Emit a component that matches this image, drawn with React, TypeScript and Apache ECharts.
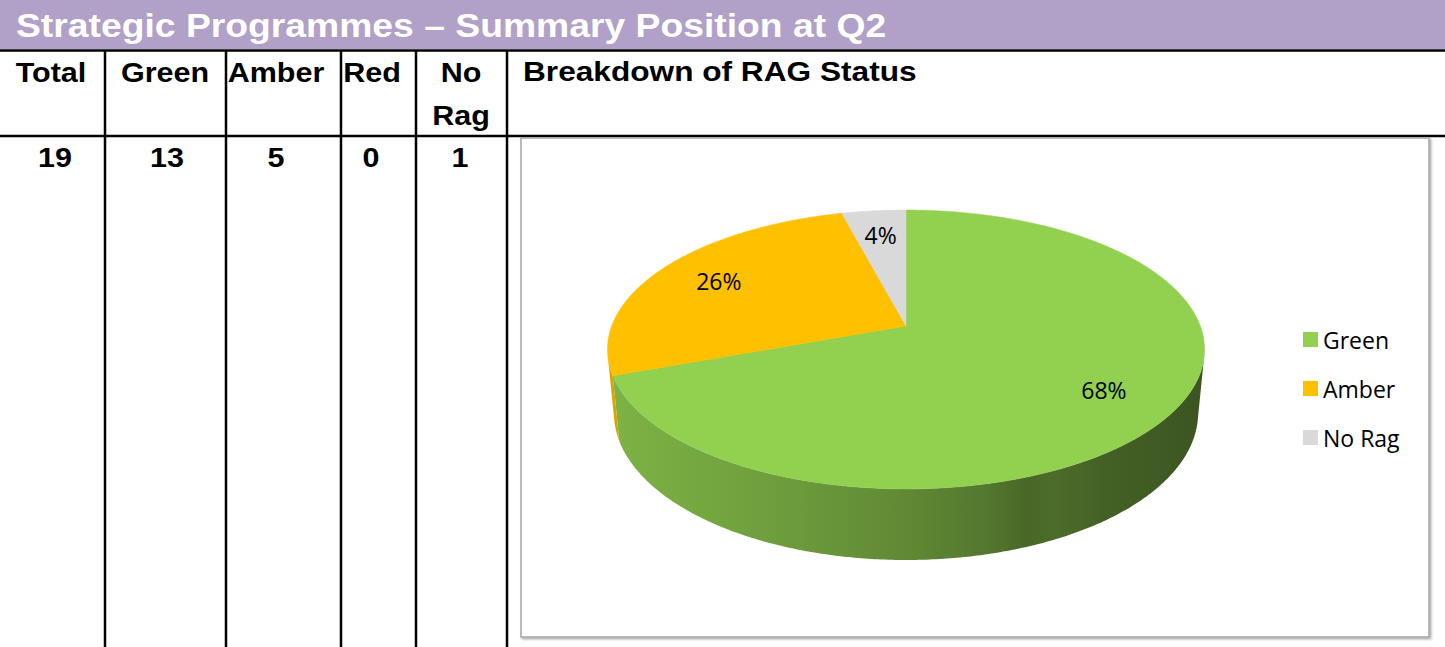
import React, { useEffect, useRef } from "react";
import * as echarts from "echarts";

// ---------------- data ----------------
const TITLE = "Strategic Programmes – Summary Position at Q2";
const tableHeaders = ["Total", "Green", "Amber", "Red", "No\nRag"];
const tableValues = [19, 13, 5, 0, 1];
const chartTitle = "Breakdown of RAG Status";
const sliceNames = ["Green", "Amber", "No Rag"];
const sliceShares = [68, 26, 4]; // percentage labels as shown on the pie
const sliceColors = ["#92D050", "#FFC000", "#D9D9D9"];

// ---------------- layout ----------------
const W = 1445;
const H = 647;
const ARIAL = '"Liberation Sans", Arial, sans-serif';
const CALIBRI = '"Open Sans", sans-serif';
const colLines = [105, 226, 341, 416, 507];
const headerX = [51, 165, 276, 372, 461];
const valueX = [55, 167, 276, 371, 460];
const STRETCH = 1.13;

// perspective pie model
const PIE_CX = 906;
const PIE_CY = 326;
const SIN_PHI = 0.4604;
const COS_PHI = Math.sqrt(1 - SIN_PHI * SIN_PHI);
const DIST = 5.271;
const FOCAL = 1551;
const DEPTH = 0.2455;
const LABEL_R = 0.76;

function proj(t: number, r: number, z: number): number[] {
  const u = r * Math.sin(t);
  const v = r * Math.cos(t);
  const d = DIST + v * COS_PHI - z * SIN_PHI;
  const yUp = v * SIN_PHI + z * COS_PHI;
  return [PIE_CX + (FOCAL * u) / d, PIE_CY - (FOCAL * yUp) / d];
}

function shade(hex: string, f: number): string {
  const n = parseInt(hex.slice(1), 16);
  const r = Math.round(((n >> 16) & 255) * f);
  const g = Math.round(((n >> 8) & 255) * f);
  const b = Math.round((n & 255) * f);
  return `rgb(${r},${g},${b})`;
}

const VIS_A = Math.acos(-1 / (DIST * COS_PHI));
const VIS_B = 2 * Math.PI - VIS_A;

function wallFill(color: string) {
  const left = proj(VIS_B, 1, 0)[0];
  const right = proj(VIS_A, 1, 0)[0];
  const span = right - left;
  const stops: [number, number][] = [
    [left, 0.86],
    [left + span * 0.25, 0.77],
    [left + span * 0.5, 0.66],
    [left + span * 0.64, 0.57],
    [left + span * 0.7, 0.5],
    [left + span * 0.75, 0.52],
    [left + span * 0.84, 0.46],
    [right, 0.41],
  ];
  return new echarts.graphic.LinearGradient(
    left,
    0,
    right,
    0,
    stops.map(([x, f]) => ({ offset: (x - left) / span, color: shade(color, f) })),
    true
  );
}

function buildOption() {
  const total = sliceShares.reduce((a, b) => a + b, 0);
  const graphic: any[] = [];
  graphic.push({ type: "rect", shape: { x: 0, y: 0, width: W, height: 49 }, style: { fill: "#B1A0C7" } });
  graphic.push({
    type: "text",
    x: 16,
    y: 25,
    scaleX: STRETCH,
    style: { text: TITLE, fill: "#fff", font: `bold 33px ${ARIAL}`, align: "left", verticalAlign: "middle" },
  });
  graphic.push({ type: "line", shape: { x1: 0, y1: 50.5, x2: W, y2: 50.5 }, style: { stroke: "#000", lineWidth: 2.5 } });
  graphic.push({ type: "line", shape: { x1: 0, y1: 136, x2: W, y2: 136 }, style: { stroke: "#000", lineWidth: 2.5 } });
  colLines.forEach((x) =>
    graphic.push({ type: "line", shape: { x1: x, y1: 50, x2: x, y2: H }, style: { stroke: "#000", lineWidth: 2.5 } })
  );
  tableHeaders.forEach((h, i) => {
    const lines = h.split("\n");
    lines.forEach((ln, k) =>
      graphic.push({
        type: "text",
        x: headerX[i],
        y: 72.5 + k * 43.5,
        scaleX: STRETCH,
        style: { text: ln, fill: "#000", font: `bold 27px ${ARIAL}`, align: "center", verticalAlign: "middle" },
      })
    );
  });
  tableValues.forEach((v, i) =>
    graphic.push({
      type: "text",
      x: valueX[i],
      y: 157.5,
      scaleX: STRETCH,
      style: { text: String(v), fill: "#000", font: `bold 27px ${ARIAL}`, align: "center", verticalAlign: "middle" },
    })
  );
  graphic.push({
    type: "text",
    x: 523,
    y: 70.7,
    scaleX: STRETCH,
    style: { text: chartTitle, fill: "#000", font: `bold 28px ${ARIAL}`, align: "left", verticalAlign: "middle" },
  });
  graphic.push({
    type: "rect",
    shape: { x: 521, y: 138, width: 908, height: 499 },
    style: {
      fill: "#fff",
      stroke: "#A6A6A6",
      lineWidth: 1.5,
      shadowBlur: 2,
      shadowOffsetX: 1.5,
      shadowOffsetY: 1.5,
      shadowColor: "rgba(0,0,0,0.35)",
    },
  });

  const data = sliceShares.map((v, i) => ({ name: sliceNames[i], value: v }));

  return {
    animation: false,
    graphic,
    legend: {
      orient: "vertical",
      left: 1303,
      top: 328,
      padding: 0,
      itemWidth: 15,
      itemHeight: 15,
      itemGap: 26,
      icon: "rect",
      selectedMode: false,
      data: sliceNames,
      textStyle: { fontFamily: CALIBRI, fontSize: 23, color: "#000", lineHeight: 23 },
    },
    series: [
      {
        type: "pie",
        name: "legend",
        silent: true,
        radius: 1,
        center: [-50, -50],
        label: { show: false },
        labelLine: { show: false },
        color: sliceColors,
        data,
      },
      {
        type: "custom",
        coordinateSystem: "none",
        silent: true,
        data: sliceShares,
        renderItem: (params: any, api: any) => {
          const i = params.dataIndex;
          const val = api.value(0) as number;
          let before = 0;
          for (let k = 0; k < i; k++) before += sliceShares[k];
          const t0 = (before / total) * 2 * Math.PI;
          const t1 = ((before + val) / total) * 2 * Math.PI;
          const color = sliceColors[i];
          const children: any[] = [];
          const ws = Math.max(t0, VIS_A);
          const we = Math.min(t1, VIS_B);
          if (we > ws) {
            const n = Math.max(4, Math.ceil((we - ws) / 0.01));
            const top: number[][] = [];
            const bot: number[][] = [];
            for (let j = 0; j <= n; j++) {
              const t = ws + ((we - ws) * j) / n;
              top.push(proj(t, 1, 0));
              bot.push(proj(t, 1, -DEPTH));
            }
            children.push({
              type: "polygon",
              shape: { points: top.concat(bot.reverse()) },
              style: { fill: wallFill(color) },
            });
          }
          const n2 = Math.max(4, Math.ceil((t1 - t0) / 0.01));
          const face: number[][] = [proj(0, 0, 0)];
          for (let j = 0; j <= n2; j++) face.push(proj(t0 + ((t1 - t0) * j) / n2, 1, 0));
          children.push({
            type: "polygon",
            shape: { points: face },
            style: { fill: color, stroke: color, lineWidth: 0.6 },
          });
          const mid = (t0 + t1) / 2;
          const [lx, ly] = proj(mid, LABEL_R, 0);
          children.push({
            type: "text",
            x: lx,
            y: ly,
            style: {
              text: `${val}%`,
              fill: "#000",
              font: `23px ${CALIBRI}`,
              align: "center",
              verticalAlign: "middle",
            },
          });
          return { type: "group", children };
        },
      },
    ],
  };
}

export default function App() {
  const ref = useRef<HTMLDivElement>(null);
  useEffect(() => {
    if (!ref.current) return;
    const chart = echarts.init(ref.current, undefined, { renderer: "svg" });
    chart.setOption(buildOption() as any);
    return () => chart.dispose();
  }, []);
  return (
    <div
      ref={ref}
      style={{ position: "absolute", left: 0, top: 0, width: W, height: H, background: "#fff" }}
    />
  );
}
